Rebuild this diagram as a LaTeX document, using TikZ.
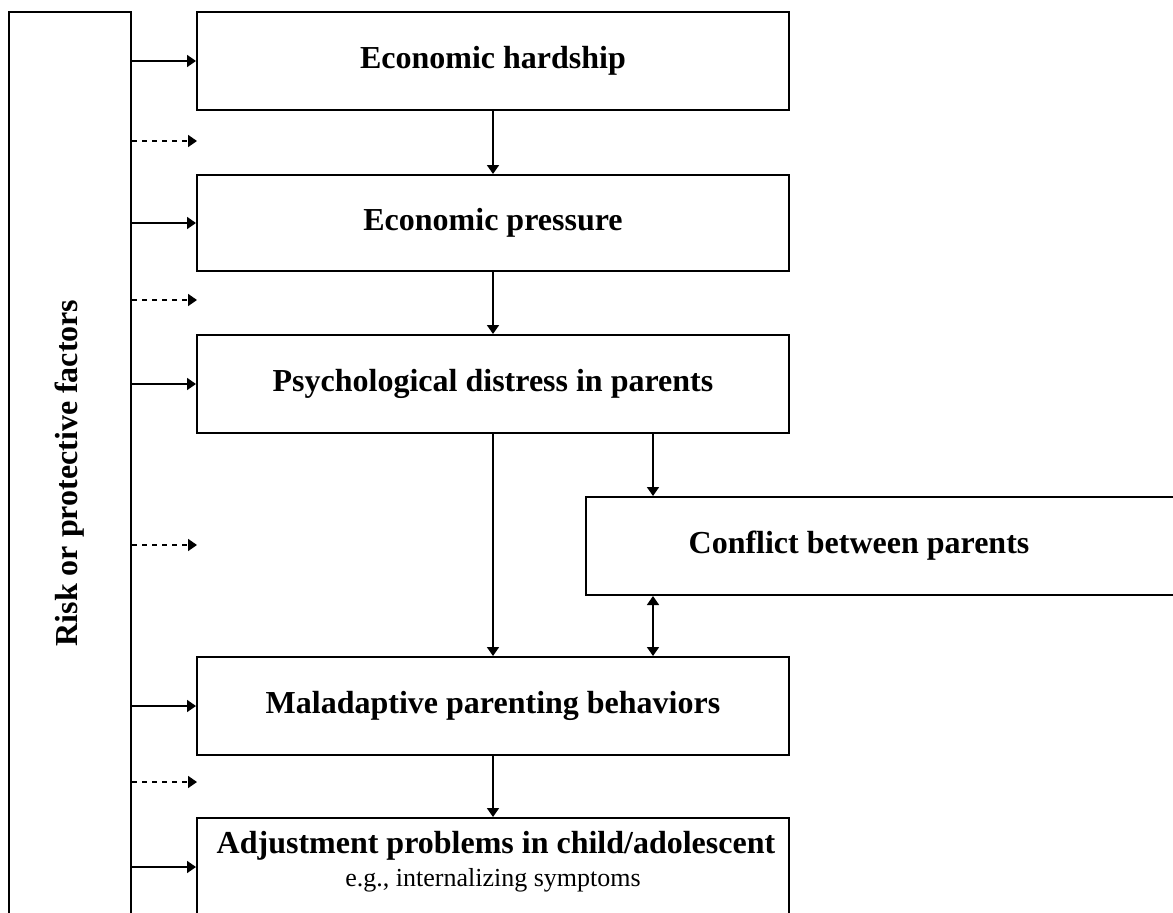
\documentclass[tikz,border=0pt]{standalone}
\usepackage{fontspec}
\setmainfont{Liberation Serif}
\usetikzlibrary{arrows.meta}
\begin{document}
\begin{tikzpicture}[x=1pt,y=-1pt,
  box/.style={draw,line width=2pt,rectangle,inner sep=0pt,minimum width=592pt},
  lbl/.style={font=\fontsize{32}{38}\selectfont\bfseries},
  sub/.style={font=\fontsize{26}{30}\selectfont},
  arr/.style={line width=1.7pt,-{Triangle[length=9pt,width=12pt]}},
  darr/.style={line width=1.7pt,dash pattern=on 4.5pt off 5.5pt,-{Triangle[length=9pt,width=12pt]}},
  biarr/.style={line width=1.7pt,{Triangle[length=9pt,width=12pt]}-{Triangle[length=9pt,width=12pt]}}]
\useasboundingbox (0,0) rectangle (1173,913);
\clip (0,0) rectangle (1173,913);
% left factor box
\node[draw,line width=2pt,rectangle,minimum width=122pt,minimum height=930pt,inner sep=0pt] (rf) at (70,477) {};
\node[lbl,rotate=90] (rft) at (70,473) {Risk or protective factors};
% main boxes
\node[box,minimum height=98pt,lbl] (eh) at (493,61) {Economic hardship};
\node[box,minimum height=96pt,lbl] (ep) at (493,223) {Economic pressure};
\node[box,minimum height=98pt,lbl] (pd) at (493,384) {Psychological distress in parents};
\node[box,minimum width=600pt,minimum height=98pt] (cb) at (886,546) {};
\node[lbl] (cbt) at (859,546) {Conflict between parents};
\node[box,minimum height=98pt,lbl] (ma) at (493,706) {Maladaptive parenting behaviors};
\node[box,minimum height=110pt] (ad) at (493,873) {};
\node[lbl] (adt) at (496,846) {Adjustment problems in child/adolescent};
\node[sub] (ads) at (493,880) {e.g., internalizing symptoms};
% coordinates
\coordinate (d1) at (197,141);
\coordinate (d2) at (197,300);
\coordinate (d3) at (197,545);
\coordinate (d4) at (197,782);
\coordinate (cx) at (653,0);
% solid arrows from factors
\draw[arr] (rf.east |- eh.west) -- (eh.west);
\draw[arr] (rf.east |- ep.west) -- (ep.west);
\draw[arr] (rf.east |- pd.west) -- (pd.west);
\draw[arr] (rf.east |- ma.west) -- (ma.west);
\draw[arr] (rf.east |- 0,867) -- (ad.west |- 0,867);
% dashed arrows
\draw[darr] (rf.east |- d1) -- (d1);
\draw[darr] (rf.east |- d2) -- (d2);
\draw[darr] (rf.east |- d3) -- (d3);
\draw[darr] (rf.east |- d4) -- (d4);
% chain
\draw[arr] (eh.south) -- (ep.north);
\draw[arr] (ep.south) -- (pd.north);
\draw[arr] (pd.south) -- (ma.north);
\draw[arr] (pd.south -| cx) -- (cb.north -| cx);
\draw[biarr] (cb.south -| cx) -- (ma.north -| cx);
\draw[arr] (ma.south) -- (ad.north);
\end{tikzpicture}
\end{document}
